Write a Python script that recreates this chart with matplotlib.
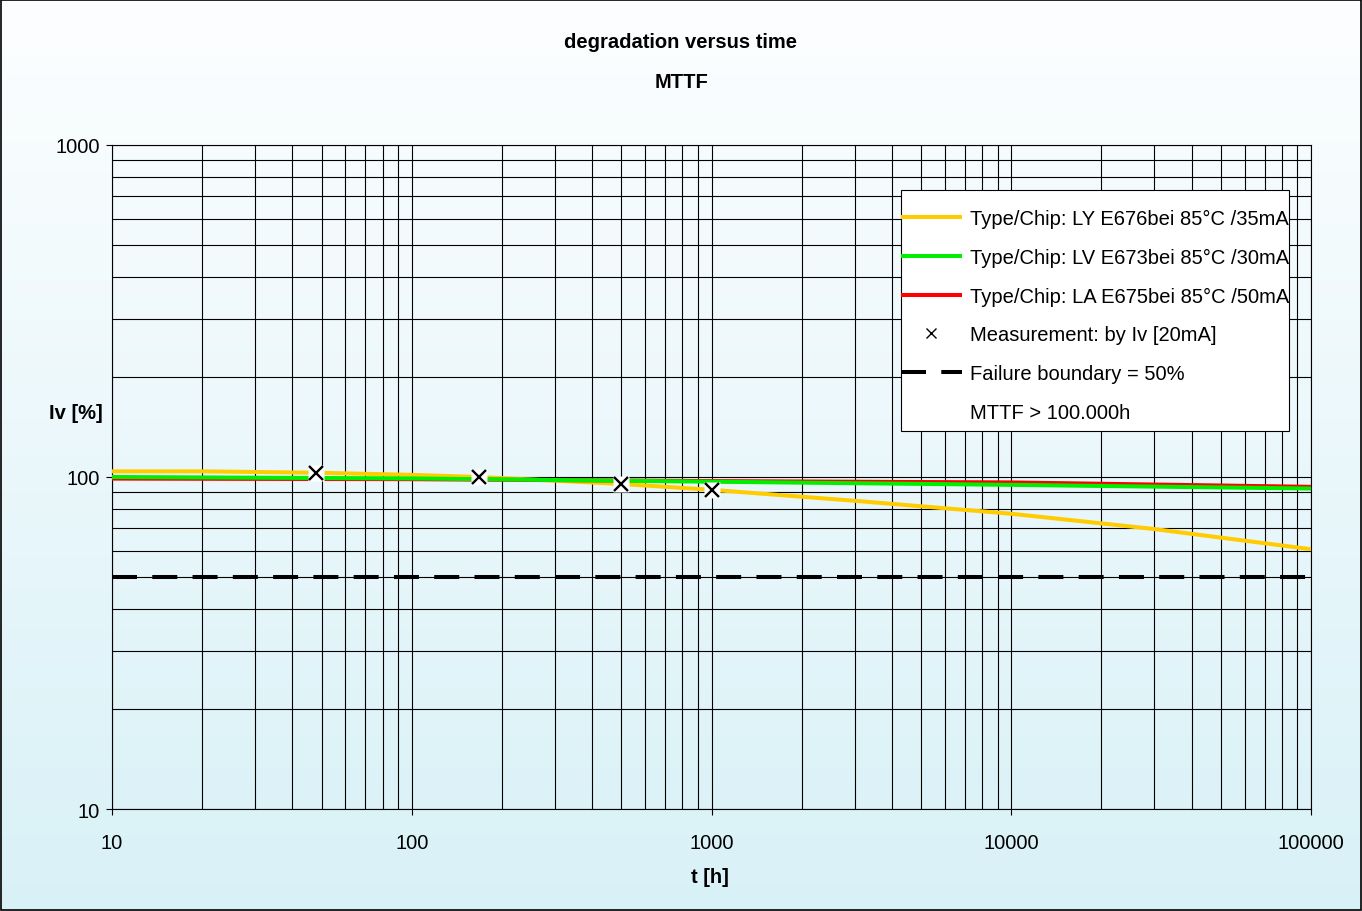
import numpy as np
import matplotlib
matplotlib.use("Agg")
import matplotlib.pyplot as plt
from matplotlib.lines import Line2D

plt.rcParams['font.family'] = ['Liberation Sans', 'DejaVu Sans']
plt.rcParams['lines.scale_dashes'] = False

# Degradation curves (time in hours, relative luminous intensity in %)
t_ly = [10, 20, 48, 100, 168, 500, 1000, 3000, 10000, 30000, 100000]
iv_ly = [104.0, 104.0, 103.0, 101.5, 100.0, 95.3, 91.5, 84.8, 77.5, 69.7, 60.6]

t_lv = [10, 100, 1000, 10000, 100000]
iv_lv = [100.0, 99.0, 96.8, 94.7, 92.3]

t_la = [10, 100, 1000, 10000, 100000]
iv_la = [98.9, 98.5, 97.2, 96.3, 93.4]

# Measured points (by Iv at 20 mA)
t_meas = [48, 168, 500, 1000]
iv_meas = [103.0, 100.0, 95.3, 91.5]

# Failure boundary
t_range = [10, 100000]
boundary = 50

labels = [
    "Type/Chip: LY E676bei 85°C /35mA",
    "Type/Chip: LV E673bei 85°C /30mA",
    "Type/Chip: LA E675bei 85°C /50mA",
    "Measurement: by Iv [20mA]",
    "Failure boundary = 50%",
    "MTTF > 100.000h",
]
x_ticks = [10, 100, 1000, 10000, 100000]
y_ticks = [10, 100, 1000]

FS = 14.5
W, H = 1362, 912
fig = plt.figure(figsize=(W / 100, H / 100), dpi=100)

# Vertical gradient background
bg = fig.add_axes([0, 0, 1, 1], zorder=-10)
top = np.array([253, 254, 255]) / 255
bot = np.array([216, 241, 247]) / 255
f = np.linspace(0, 1, 256)[:, None]
grad = top[None, :] * (1 - f) + bot[None, :] * f
bg.imshow(grad[:, None, :], aspect='auto', extent=[0, 1, 0, 1], origin='upper')
bg.set_xlim(0, 1)
bg.set_ylim(0, 1)
bg.axis('off')
bg.add_patch(plt.Rectangle((0.0005, 0.0008), 0.999, 0.9985, fill=False,
                           edgecolor='black', linewidth=1.2, transform=bg.transAxes))

ax = fig.add_axes([112 / W, 1 - 810 / H, (1311 - 112) / W, (810 - 146) / H])
ax.patch.set_alpha(0)
ax.set_xscale('log')
ax.set_yscale('log')
ax.set_xlim(10, 100000)
ax.set_ylim(10, 1000)

ax.grid(True, which='both', color='black', linewidth=0.8)
ax.set_axisbelow(True)
ax.set_xticks(x_ticks)
ax.set_xticklabels([str(v) for v in x_ticks])
ax.set_yticks(y_ticks)
ax.set_yticklabels([str(v) for v in y_ticks])
ax.tick_params(which='major', direction='out', length=4.5, width=0.8,
               labelsize=FS, pad=4, color='black')
ax.tick_params(axis='x', pad=13)
ax.tick_params(which='minor', length=0)
for s in ax.spines.values():
    s.set_color('black')
    s.set_linewidth(0.8)

lw = 2.9
h_ly, = ax.plot(t_ly, iv_ly, color='#FFCC00', lw=lw, zorder=3, solid_capstyle='butt')
h_la, = ax.plot(t_la, iv_la, color='#FF0000', lw=lw, zorder=3.5, solid_capstyle='butt')
h_lv, = ax.plot(t_lv, iv_lv, color='#00EE00', lw=lw, zorder=4, solid_capstyle='butt')

ax.plot(t_meas, iv_meas, linestyle='none', marker='s', markersize=11,
        markerfacecolor='white', markeredgecolor='none', zorder=5)
ax.plot(t_meas, iv_meas, linestyle='none', marker='x', markersize=9.5,
        markeredgewidth=1.7, color='black', zorder=6)

h_fb, = ax.plot(t_range, [boundary, boundary], color='black', lw=lw,
                dashes=(18, 11), zorder=4)

h_meas = Line2D([], [], linestyle='none', marker='x', markersize=7,
                markeredgewidth=1.0, color='black')
h_mttf = Line2D([], [], linestyle='none')

# Legend frame drawn as a separate white box
box = plt.Rectangle((901 / W, 1 - 432 / H), (1289 - 901) / W, (432 - 191) / H,
                    transform=fig.transFigure, facecolor='white',
                    edgecolor='black', linewidth=0.8, zorder=9)
ax.add_artist(box)
box.set_clip_on(False)

leg = ax.legend([h_ly, h_lv, h_la, h_meas, h_fb, h_mttf], labels,
                loc='upper right', bbox_to_anchor=(1289 / W, 1 - 210 / H),
                bbox_transform=fig.transFigure,
                fontsize=FS, frameon=False, handlelength=3.0, handletextpad=0.4,
                labelspacing=0.98, borderpad=0, borderaxespad=0)
leg.set_zorder(10)

fig.text(0.5, 1 - 42 / H, "degradation versus time", ha='center', va='center',
         fontsize=FS, fontweight='bold')
fig.text(0.5, 1 - 82 / H, "MTTF", ha='center', va='center',
         fontsize=FS, fontweight='bold')
fig.text(76 / W, 1 - 414 / H, "Iv [%]", ha='center', va='center',
         fontsize=FS, fontweight='bold')
fig.text(710 / W, 1 - 878 / H, "t [h]", ha='center', va='center',
         fontsize=FS, fontweight='bold')

fig.savefig("out.png", dpi=100)
